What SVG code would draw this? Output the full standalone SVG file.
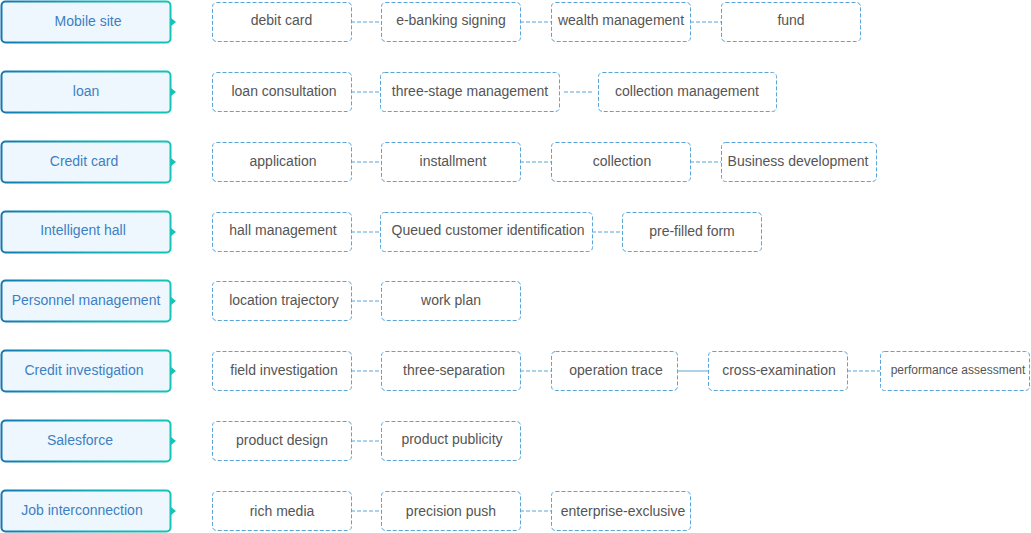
<svg xmlns="http://www.w3.org/2000/svg" width="1031" height="533" viewBox="0 0 1031 533">
<defs>
<linearGradient id="g" x1="0" y1="0" x2="1" y2="0">
<stop offset="0" stop-color="#1478b2"/>
<stop offset="0.5" stop-color="#14a8b8"/>
<stop offset="1" stop-color="#14c4b8"/>
</linearGradient>
<style>
.cat rect{fill:#eef7fd;stroke:url(#g);stroke-width:2}
.cat polygon{fill:#14c4b8}
.cat text{font-family:"Liberation Sans",Arial,sans-serif;font-size:14px;fill:#3d7fc4;text-anchor:middle}
.item rect{fill:#fff;stroke:#5aa5d8;stroke-width:1;stroke-dasharray:4 2}
.item text{font-family:"Liberation Sans",Arial,sans-serif;font-size:14px;fill:#555;text-anchor:middle}
.item text.sm{font-size:12px}
#connectors line{stroke:#5aa5d8;stroke-width:1;stroke-dasharray:4 2}
#connectors line.solid{stroke-dasharray:none}
</style>
</defs>
<rect width="1031" height="533" fill="#fff"/>
<g id="connectors">
<line x1="351" y1="22" x2="381" y2="22"/>
<line x1="520" y1="22" x2="551" y2="22"/>
<line x1="690" y1="22" x2="721" y2="22"/>
<line x1="351" y1="92" x2="380" y2="92"/>
<line x1="564" y1="92" x2="593" y2="92"/>
<line x1="351" y1="162" x2="381" y2="162"/>
<line x1="520" y1="162" x2="551" y2="162"/>
<line x1="690" y1="162" x2="721" y2="162"/>
<line x1="351" y1="232" x2="380" y2="232"/>
<line x1="592" y1="232" x2="622" y2="232"/>
<line x1="351" y1="301" x2="381" y2="301"/>
<line x1="351" y1="371" x2="381" y2="371"/>
<line x1="520" y1="371" x2="551" y2="371"/>
<line class="solid" x1="677" y1="371" x2="708" y2="371"/>
<line x1="847" y1="371" x2="880" y2="371"/>
<line x1="351" y1="441" x2="381" y2="441"/>
<line x1="351" y1="511" x2="381" y2="511"/>
<line x1="520" y1="511" x2="551" y2="511"/>
</g>
<g id="cat-mobile" class="cat"><rect x="1.5" y="1.5" width="169" height="41" rx="4"/><polygon points="171,18 176,22 171,26"/><text x="88" y="26">Mobile site</text></g>
<g id="cat-loan" class="cat"><rect x="1.5" y="71.5" width="169" height="41" rx="4"/><polygon points="171,88 176,92 171,96"/><text x="86" y="96">loan</text></g>
<g id="cat-credit" class="cat"><rect x="1.5" y="141.5" width="169" height="41" rx="4"/><polygon points="171,158 176,162 171,166"/><text x="84" y="166">Credit card</text></g>
<g id="cat-hall" class="cat"><rect x="1.5" y="211.5" width="169" height="41" rx="4"/><polygon points="171,228 176,232 171,236"/><text x="83" y="235">Intelligent hall</text></g>
<g id="cat-personnel" class="cat"><rect x="1.5" y="280.5" width="169" height="41" rx="4"/><polygon points="171,297 176,301 171,305"/><text x="86" y="305">Personnel management</text></g>
<g id="cat-investigation" class="cat"><rect x="1.5" y="350.5" width="169" height="41" rx="4"/><polygon points="171,367 176,371 171,375"/><text x="84" y="375">Credit investigation</text></g>
<g id="cat-salesforce" class="cat"><rect x="1.5" y="420.5" width="169" height="41" rx="4"/><polygon points="171,437 176,441 171,445"/><text x="80" y="445">Salesforce</text></g>
<g id="cat-job" class="cat"><rect x="1.5" y="490.5" width="169" height="41" rx="4"/><polygon points="171,507 176,511 171,515"/><text x="82" y="515">Job interconnection</text></g>

<g id="n0-1" class="item"><rect x="212.5" y="2.5" width="139" height="39" rx="4"/><text x="281.5" y="25">debit card</text></g>
<g id="n0-2" class="item"><rect x="381.5" y="2.5" width="139" height="39" rx="4"/><text x="451" y="25">e-banking signing</text></g>
<g id="n0-3" class="item"><rect x="551.5" y="2.5" width="139" height="39" rx="4"/><text x="621" y="25">wealth management</text></g>
<g id="n0-4" class="item"><rect x="721.5" y="2.5" width="139" height="39" rx="4"/><text x="791" y="25">fund</text></g>

<g id="n1-1" class="item"><rect x="212.5" y="72.5" width="139" height="39" rx="4"/><text x="284" y="96">loan consultation</text></g>
<g id="n1-2" class="item"><rect x="380.5" y="72.5" width="179" height="39" rx="4"/><text x="470" y="96">three-stage management</text></g>
<g id="n1-3" class="item"><rect x="598.5" y="72.5" width="178" height="39" rx="4"/><text x="687" y="96">collection management</text></g>

<g id="n2-1" class="item"><rect x="212.5" y="142.5" width="139" height="39" rx="4"/><text x="283" y="166">application</text></g>
<g id="n2-2" class="item"><rect x="381.5" y="142.5" width="139" height="39" rx="4"/><text x="453" y="166">installment</text></g>
<g id="n2-3" class="item"><rect x="551.5" y="142.5" width="139" height="39" rx="4"/><text x="622" y="166">collection</text></g>
<g id="n2-4" class="item"><rect x="721.5" y="142.5" width="155" height="39" rx="4"/><text x="798" y="166">Business development</text></g>

<g id="n3-1" class="item"><rect x="212.5" y="212.5" width="139" height="39" rx="4"/><text x="283" y="235">hall management</text></g>
<g id="n3-2" class="item"><rect x="380.5" y="212.5" width="212" height="39" rx="4"/><text x="488" y="235">Queued customer identification</text></g>
<g id="n3-3" class="item"><rect x="622.5" y="212.5" width="139" height="39" rx="4"/><text x="692" y="236">pre-filled form</text></g>

<g id="n4-1" class="item"><rect x="212.5" y="281.5" width="139" height="39" rx="4"/><text x="284" y="305">location trajectory</text></g>
<g id="n4-2" class="item"><rect x="381.5" y="281.5" width="139" height="39" rx="4"/><text x="451" y="305">work plan</text></g>

<g id="n5-1" class="item"><rect x="212.5" y="351.5" width="139" height="39" rx="4"/><text x="284" y="375">field investigation</text></g>
<g id="n5-2" class="item"><rect x="381.5" y="351.5" width="139" height="39" rx="4"/><text x="454" y="375">three-separation</text></g>
<g id="n5-3" class="item"><rect x="551.5" y="351.5" width="126" height="39" rx="4"/><text x="616" y="375">operation trace</text></g>
<g id="n5-4" class="item"><rect x="708.5" y="351.5" width="139" height="39" rx="4"/><text x="779" y="375">cross-examination</text></g>
<g id="n5-5" class="item"><rect x="880.5" y="351.5" width="149" height="39" rx="4"/><text class="sm" x="958" y="374">performance assessment</text></g>

<g id="n6-1" class="item"><rect x="212.5" y="421.5" width="139" height="39" rx="4"/><text x="282" y="445">product design</text></g>
<g id="n6-2" class="item"><rect x="381.5" y="421.5" width="139" height="39" rx="4"/><text x="452" y="444">product publicity</text></g>

<g id="n7-1" class="item"><rect x="212.5" y="491.5" width="139" height="39" rx="4"/><text x="282" y="516">rich media</text></g>
<g id="n7-2" class="item"><rect x="381.5" y="491.5" width="139" height="39" rx="4"/><text x="451" y="516">precision push</text></g>
<g id="n7-3" class="item"><rect x="551.5" y="491.5" width="139" height="39" rx="4"/><text x="623" y="516">enterprise-exclusive</text></g>
</svg>
